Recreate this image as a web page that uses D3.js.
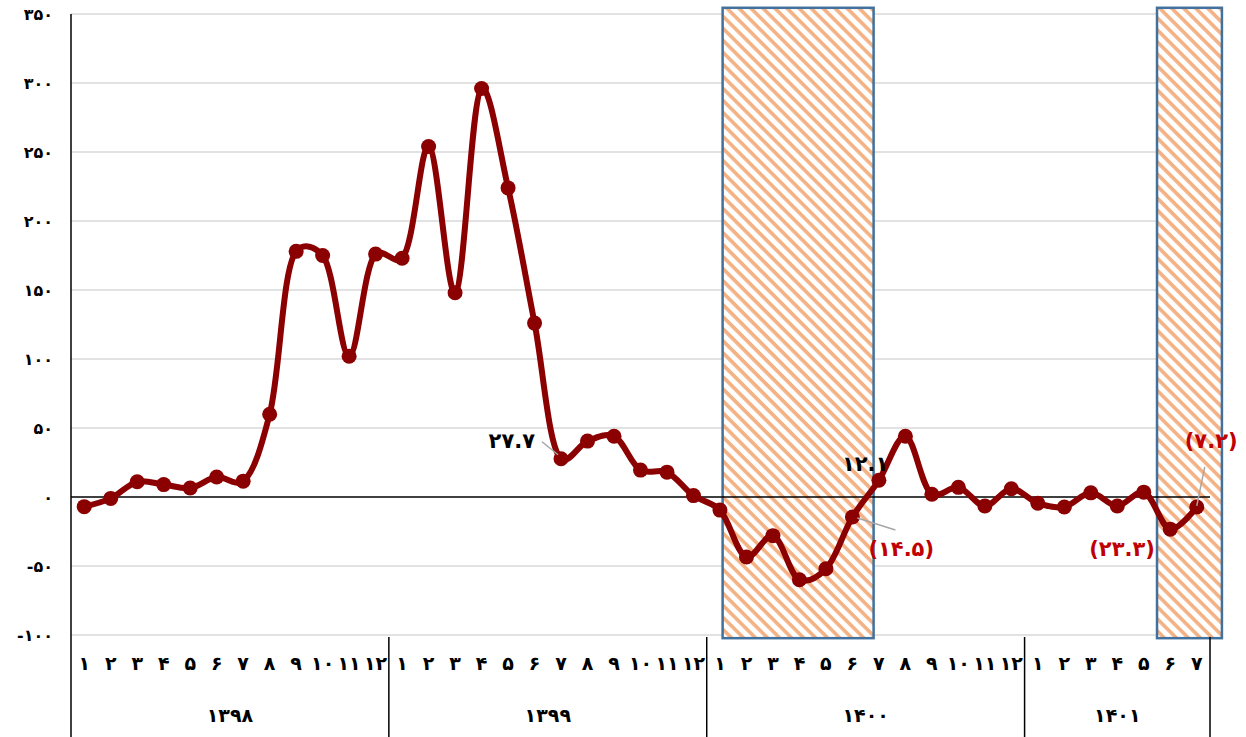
<!DOCTYPE html>
<html>
<head>
<meta charset="utf-8">
<script src="https://cdn.jsdelivr.net/npm/d3@7"></script>
<style>
  body { margin: 0; background: #fff; }
  text { font-family: "DejaVu Sans", sans-serif; }
</style>
</head>
<body>
<script>
"use strict";

// years and months on the x axis (Persian calendar)
var years = ["۱۳۹۸", "۱۳۹۹", "۱۴۰۰", "۱۴۰۱"];
var monthsPerYear = [12, 12, 12, 7];
var monthNames = ["۱","۲","۳","۴","۵","۶","۷","۸","۹","۱۰","۱۱","۱۲"];

// monthly values
var values1398 = [-7, -1, 11, 9, 6.5, 14.5, 11.5, 60, 178, 175, 102, 176];
var values1399 = [173, 254, 148, 296, 224, 126, 27.7, 40.5, 44, 19.5, 18, 1];
var values1400 = [-9.5, -43.5, -28, -60, -52, -14.5, 12.1, 44, 2, 7, -6.5, 6];
var values1401 = [-4.5, -7.2, 3, -6.5, 3.5, -23.3, -7.2];

var yTicks = [-100, -50, 0, 50, 100, 150, 200, 250, 300, 350];

// hatched periods, in month-index units
var shaded = [[24.1, 29.8], [40.5, 42.95]];

var persian = function (s) {
  return String(s).replace(/[0-9]/g, function (d) { return "۰۱۲۳۴۵۶۷۸۹"[+d]; });
};

var data = [];
[values1398, values1399, values1400, values1401].forEach(function (arr, yi) {
  arr.forEach(function (v, mi) { data.push({ year: yi, month: mi, value: v }); });
});

var width = 1246, height = 737;
var left = 71, right = 1210, plotTop = 14, plotBottom = 635;
var n = data.length;

var x = d3.scaleLinear().domain([-0.5, n - 0.5]).range([left, right]);
var y = d3.scaleLinear().domain([-100, 350]).range([plotBottom, plotTop]);

var svg = d3.select("body").append("svg")
  .attr("width", width).attr("height", height);

var defs = svg.append("defs");
var pat = defs.append("pattern")
  .attr("id", "hatch")
  .attr("patternUnits", "userSpaceOnUse")
  .attr("width", 8.5).attr("height", 8.5)
  .attr("patternTransform", "rotate(45)");
pat.append("rect").attr("width", 8.5).attr("height", 8.5).attr("fill", "#fff");
pat.append("rect").attr("width", 8.5).attr("height", 3.6).attr("fill", "#f4b183");

// grid
svg.append("g").selectAll("line").data(yTicks.filter(function (d) { return d !== 0; }))
  .enter().append("line")
  .attr("x1", left).attr("x2", right)
  .attr("y1", function (d) { return y(d); }).attr("y2", function (d) { return y(d); })
  .attr("stroke", "#d9d9d9").attr("stroke-width", 1.5);

// hatched boxes
svg.append("g").selectAll("rect").data(shaded).enter().append("rect")
  .attr("x", function (d) { return x(d[0]); })
  .attr("width", function (d) { return x(d[1]) - x(d[0]); })
  .attr("y", y(354.5))
  .attr("height", y(-102.3) - y(354.5))
  .attr("fill", "url(#hatch)")
  .attr("stroke", "#41719c").attr("stroke-width", 2.5);

// zero line
svg.append("line")
  .attr("x1", left).attr("x2", right)
  .attr("y1", y(0)).attr("y2", y(0))
  .attr("stroke", "#000").attr("stroke-width", 1.5);

// y axis
svg.append("line")
  .attr("x1", left).attr("x2", left).attr("y1", plotTop).attr("y2", height)
  .attr("stroke", "#000").attr("stroke-width", 1.5);

svg.append("g").selectAll("text").data(yTicks).enter().append("text")
  .attr("x", 53).attr("y", function (d) { return y(d); })
  .attr("dy", "0.35em")
  .attr("text-anchor", "end")
  .style("font-size", "16px").style("font-weight", "bold")
  .text(function (d) { return (d < 0 ? "-" : "") + persian(Math.abs(d)); });

// x axis: months and years
svg.append("g").selectAll("text").data(data).enter().append("text")
  .attr("x", function (d, i) { return x(i); })
  .attr("y", 663).attr("dy", "0.35em")
  .attr("text-anchor", "middle")
  .style("font-size", "19px").style("font-weight", "bold")
  .style("letter-spacing", "-1px")
  .text(function (d) { return monthNames[d.month]; });

var start = 0, bounds = [];
monthsPerYear.forEach(function (m) { bounds.push([start, start + m]); start += m; });

svg.append("g").selectAll("line").data(bounds).enter().append("line")
  .attr("x1", function (d) { return x(d[1] - 0.5); })
  .attr("x2", function (d) { return x(d[1] - 0.5); })
  .attr("y1", 637).attr("y2", height)
  .attr("stroke", "#000").attr("stroke-width", 1.5);

svg.append("g").selectAll("text").data(bounds).enter().append("text")
  .attr("x", function (d) { return (x(d[0] - 0.5) + x(d[1] - 0.5)) / 2; })
  .attr("y", 715).attr("dy", "0.35em")
  .attr("text-anchor", "middle")
  .style("font-size", "19px").style("font-weight", "bold")
  .text(function (d, i) { return years[i]; });

// the line
var line = d3.line()
  .x(function (d, i) { return x(i); })
  .y(function (d) { return y(d.value); })
  .curve(d3.curveCatmullRom.alpha(0.35));

svg.append("path").datum(data)
  .attr("d", line)
  .attr("fill", "none")
  .attr("stroke", "#8b0000").attr("stroke-width", 6)
  .attr("stroke-linejoin", "round");

svg.append("g").selectAll("circle").data(data).enter().append("circle")
  .attr("cx", function (d, i) { return x(i); })
  .attr("cy", function (d) { return y(d.value); })
  .attr("r", 7.5)
  .attr("fill", "#8b0000");

// data labels with leader lines (offsets from the point)
var notes = [
  { i: 18, text: "۲۷.۷", color: "#000", tx: -26, ty: -18, anchor: "end", lead: [[-19, -17], [-3, -4]] },
  { i: 29, text: "(۱۴.۵)", color: "#c00000", tx: 16, ty: 32, anchor: "start", lead: [[5, 1], [43, 13]] },
  { i: 30, text: "۱۲.۱", color: "#000", tx: -37, ty: -17, anchor: "start", lead: null },
  { i: 41, text: "(۲۳.۳)", color: "#c00000", tx: -81, ty: 19, anchor: "start", lead: null },
  { i: 42, text: "(۷.۲)", color: "#c00000", tx: -12, ty: -66, anchor: "start", lead: [[8, -40], [0, -1]] }
];

var g = svg.append("g");
notes.forEach(function (nt) {
  var px = x(nt.i), py = y(data[nt.i].value);
  if (nt.lead) {
    g.append("line")
      .attr("x1", px + nt.lead[0][0]).attr("y1", py + nt.lead[0][1])
      .attr("x2", px + nt.lead[1][0]).attr("y2", py + nt.lead[1][1])
      .attr("stroke", "#a6a6a6").attr("stroke-width", 1.5);
  }
  g.append("text")
    .attr("x", px + nt.tx).attr("y", py + nt.ty)
    .attr("dy", "0.35em")
    .attr("text-anchor", nt.anchor)
    .attr("fill", nt.color)
    .style("font-size", "21px").style("font-weight", "bold")
    .text(nt.text);
});
</script>
</body>
</html>
